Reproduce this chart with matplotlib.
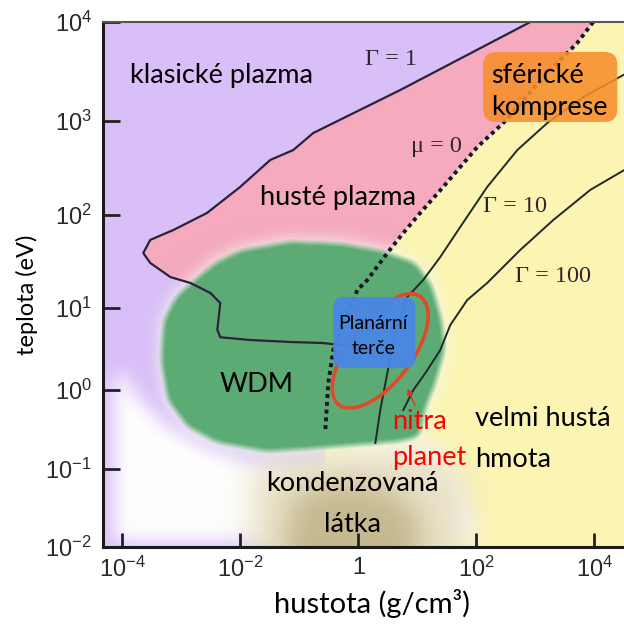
import numpy as np
import matplotlib
matplotlib.use("Agg")
import matplotlib.pyplot as plt
from matplotlib.path import Path
from matplotlib.patches import FancyBboxPatch
from matplotlib.colors import to_rgb

plt.rcParams["font.family"] = ["Lato", "DejaVu Sans"]

# ---------------- axes ----------------
X_TICKS = [1e-4, 1e-2, 1.0, 1e2, 1e4]
X_TICK_LABELS = [r"$\mathregular{10^{-4}}$", r"$\mathregular{10^{-2}}$", "1",
                 r"$\mathregular{10^{2}}$", r"$\mathregular{10^{4}}$"]
Y_TICKS = [1e-2, 1e-1, 1.0, 1e1, 1e2, 1e3, 1e4]
Y_TICK_LABELS = [r"$\mathregular{10^{-2}}$", r"$\mathregular{10^{-1}}$", r"$\mathregular{10^{0}}$",
                 r"$\mathregular{10^{1}}$", r"$\mathregular{10^{2}}$", r"$\mathregular{10^{3}}$",
                 r"$\mathregular{10^{4}}$"]
# temperature axis is drawn with uneven decade heights
Y_DECADES = [-2, -1, 0, 1, 2, 3, 4]
Y_DECADE_HEIGHT = [0, 78, 157, 239, 332, 426, 525]

# ---------------- boundary curves: density (g/cm3), temperature (eV) ----------------
gamma1_rho = [817, 5.1, 0.171, 0.0785, 0.032, 0.0099, 0.0027, 7.3e-4, 2.96e-4, 2.25e-4,
              2.96e-4, 6.5e-4, 1.41e-3, 3.1e-3, 4.55e-3, 4.05e-3, 4.55e-3, 0.0147, 0.07, 0.25, 1.07]
gamma1_T = [1e4, 2055, 745, 491, 385, 199, 105, 69, 54, 39,
            30.5, 21.5, 18.6, 14.5, 11.3, 5.4, 4.4, 4.07, 3.85, 3.74, 3.34]

mu0_rho = [9500, 5100, 1650, 284, 103, 27.3, 11.1, 5.74, 3.08, 1.41, 0.955, 0.597, 0.374, 0.308, 0.274]
mu0_T = [1e4, 6140, 3125, 952, 528, 199, 105, 64, 39, 20, 15.6, 7.1, 3.07, 1.22, 0.312]

gamma10_rho = [30800, 6460, 1585, 492, 152, 53, 24.3, 12.5, 6.7, 4.55, 3.2, 2.34, 1.93]
gamma10_T = [2915, 1747, 952, 491, 199, 74.3, 35.3, 20, 13.1, 6.2, 1.85, 0.558, 0.213]

gamma100_rho = [32000, 8490, 2005, 552, 152, 69.8, 36, 24.3, 13.6, 8.5, 5.74]
gamma100_T = [301, 185, 88.4, 42.1, 18.6, 12.2, 6.2, 3.07, 1.61, 1.0, 0.558]

# ---------------- regions ----------------
wdm_rho = [7.85e-4, 1.41e-3, 3.74e-3, 9.9e-3, 0.07, 0.49, 2.34, 9.2, 17.8, 26.3, 29.6, 20,
           13.6, 11.1, 5.1, 0.73, 0.103, 0.028, 4.0e-3, 1.25e-3, 5.7e-4, 4.4e-4, 4.9e-4]
wdm_T = [13.1, 18.6, 31.2, 42.1, 52.5, 50, 42.1, 31.2, 17.7, 7.1, 3.07, 1.15,
         0.56, 0.254, 0.22, 0.195, 0.174, 0.164, 0.213, 0.34, 0.75, 2.32, 7.1]

cold_rho = [7.26e-5, 1.07e-4, 1.65e-4, 5.31e-4, 2.51e-3, 0.0147, 0.103, 5.1, 24.3, 85, 100, 7.26e-5]
cold_T = [1.4, 1.57, 0.865, 0.36, 0.19, 0.123, 0.097, 0.201, 0.2, 0.03, 0.0116, 0.0116]

condensed_rho = [0.0147, 0.0473, 0.726, 5.1, 24.3, 64.5, 85, 64.5, 0.0147]
condensed_T = [0.097, 0.14, 0.164, 0.185, 0.164, 0.0838, 0.030, 0.01, 0.01]

condensed_core_rho = [0.0698, 0.225, 1.07, 5.1, 11.1, 11.1, 0.0575]
condensed_core_T = [0.040, 0.0624, 0.068, 0.0464, 0.0222, 0.01, 0.01]

# planetary interiors: ellipse in log10 space (centre, two semi-axis vectors in decades)
planet_centre = (2.34, 2.90)
planet_axis_a = (0.688, 0.656)
planet_axis_b = (-0.432, 0.218)

# experiment boxes (density range, temperature range)
spherical_rho = (130, 24400)
spherical_T = (976, 4980)
planar_rho = (0.374, 9.2)
planar_T = (1.85, 13.1)

# ---------------- figure ----------------
fig = plt.figure(figsize=(6.24, 6.26), dpi=100)
rect = [103 / 624, 79 / 626, 521 / 624, 525 / 626]
bg = fig.add_axes(rect, zorder=0)
ax = fig.add_axes(rect, zorder=1)
ax.patch.set_alpha(0)


def t_forward(y):
    return np.interp(np.log10(np.maximum(y, 1e-300)), Y_DECADES, Y_DECADE_HEIGHT)


def t_inverse(p):
    return 10.0 ** np.interp(p, Y_DECADE_HEIGHT, Y_DECADES)


ax.set_xscale("log")
ax.set_yscale("function", functions=(t_forward, t_inverse))
ax.set_xlim(10 ** -4.33, 10 ** 4.5)
ax.set_ylim(1e-2, 1e4)

# ---------------- soft coloured background ----------------
W, H = 521, 525
gx = (np.arange(W) + 0.5) / W
gy = 1 - (np.arange(H) + 0.5) / H
GX, GY = np.meshgrid(gx, gy)
grid = np.column_stack([GX.ravel(), GY.ravel()])


def axes_frac(rho, T):
    d = ax.transData.transform(np.column_stack([rho, T]))
    return ax.transAxes.inverted().transform(d)


def region(rho, T):
    return Path(axes_frac(rho, T)).contains_points(grid).reshape(H, W).astype(float)


def soften(m, s):
    r = int(np.ceil(3 * s))
    k = np.exp(-0.5 * (np.arange(-r, r + 1) / s) ** 2)
    k /= k.sum()
    p = np.pad(m, r, mode="edge")
    p = np.apply_along_axis(lambda v: np.convolve(v, k, mode="valid"), 0, p)
    p = np.apply_along_axis(lambda v: np.convolve(v, k, mode="valid"), 1, p)
    return p


img = np.empty((H, W, 3))
img[:] = to_rgb("#d9bff8")


def paint(color, a):
    global img
    img = img * (1 - a[..., None]) + np.asarray(to_rgb(color)) * a[..., None]


x_hi = ax.get_xlim()[1] * 3
y_lo, y_hi = ax.get_ylim()

pink_rho = gamma1_rho[:15] + mu0_rho[11::-1]
pink_T = gamma1_T[:15] + mu0_T[11::-1]
paint("#f5aabe", soften(region(pink_rho, pink_T), 1.0))

yel_rho = mu0_rho + [mu0_rho[-1], x_hi, x_hi]
yel_T = mu0_T + [y_lo, y_lo, y_hi]
paint("#fcf5b2", soften(region(yel_rho, yel_T), 1.0))

paint("#ffffff", soften(region(cold_rho, cold_T), 9))
paint("#e8e0c4", 0.95 * soften(region(condensed_rho, condensed_T), 16))
paint("#b6a878", 0.7 * soften(region(condensed_core_rho, condensed_core_T), 14))

wdm = region(wdm_rho, wdm_T)
paint("#f1f6ec", 0.7 * np.clip(1.8 * soften(wdm, 8), 0, 1))
paint("#5cab74", np.clip((soften(wdm, 5) - 0.3) / 0.5, 0, 1))

bg.imshow(img, extent=(0, 1, 0, 1), aspect="auto", interpolation="bilinear")
bg.set_xlim(0, 1)
bg.set_ylim(0, 1)
bg.axis("off")

# ---------------- curves ----------------
ax.plot(gamma1_rho, gamma1_T, color="#2a2238", lw=1.6, zorder=2)
ax.plot(gamma10_rho, gamma10_T, color="#1f2a28", lw=1.4, zorder=2)
ax.plot(gamma100_rho, gamma100_T, color="#1f2a28", lw=1.4, zorder=2)
ax.plot(mu0_rho, mu0_T, color="#161626", lw=2.8, linestyle=(0, (1, 1.0)), zorder=2)

t = np.linspace(0, 2 * np.pi, 200)
lx = np.log10(planet_centre[0]) + np.cos(t) * planet_axis_a[0] + np.sin(t) * planet_axis_b[0]
ly = np.log10(planet_centre[1]) + np.cos(t) * planet_axis_a[1] + np.sin(t) * planet_axis_b[1]
ax.plot(10 ** lx, 10 ** ly, color="#e04a28", lw=2.6, zorder=3)

ax.annotate("", xy=(6.46, 1.12), xytext=(9.55, 0.59),
            arrowprops=dict(arrowstyle="-|>", color="#e8301e", lw=1.0, mutation_scale=9),
            zorder=3)


def box(rho, T, color, alpha, r):
    (x0, y0), (x1, y1) = axes_frac(rho, T)
    ax.add_patch(FancyBboxPatch((x0, y0), x1 - x0, y1 - y0,
                                boxstyle=f"round,pad=0,rounding_size={r}",
                                transform=ax.transAxes, fc=color, ec="none",
                                alpha=alpha, zorder=4))


box(spherical_rho, spherical_T, "#f78e2c", 0.88, 0.025)
box(planar_rho, planar_T, "#4a86e6", 0.95, 0.02)

# ---------------- labels ----------------
FS = 19.5
ax.text(4.82e-3, 2420, "klasické plazma", ha="center", va="baseline", fontsize=FS, zorder=5)
ax.text(0.446, 128, "husté plazma", ha="center", va="baseline", fontsize=FS, zorder=5)
ax.text(0.0189, 0.944, "WDM", ha="center", va="baseline", fontsize=FS, zorder=5)
ax.text(0.80, 0.0522, "kondenzovaná", ha="center", va="baseline", fontsize=FS, zorder=5)
ax.text(0.80, 0.0156, "látka", ha="center", va="baseline", fontsize=FS, zorder=5)
ax.text(3.74, 0.321, "nitra", ha="left", va="baseline", fontsize=FS, color="#ff0000", zorder=5)
ax.text(3.74, 0.112, "planet", ha="left", va="baseline", fontsize=FS, color="#ff0000", zorder=5)
ax.text(95.5, 0.35, "velmi hustá", ha="left", va="baseline", fontsize=FS, zorder=5)
ax.text(95.5, 0.106, "hmota", ha="left", va="baseline", fontsize=FS, zorder=5)
ax.text(178, 2420, "sférické", ha="left", va="baseline", fontsize=FS, zorder=5)
ax.text(178, 1150, "komprese", ha="left", va="baseline", fontsize=FS, zorder=5)
ax.text(1.78, 5.55, "Planární", ha="center", va="baseline", fontsize=14, zorder=5)
ax.text(1.8, 2.75, "terče", ha="center", va="baseline", fontsize=14, zorder=5)

GK = dict(family="Liberation Serif", fontsize=17.5, color="#2e262c", ha="center", va="baseline", zorder=5)
ax.text(3.59, 3680, "Γ = 1", **GK)
ax.text(21.2, 468, "μ = 0", **GK)
ax.text(446, 108, "Γ = 10", **GK)
ax.text(1965, 19.1, "Γ = 100", **GK)

ax.set_xlabel("hustota (g/cm³)", fontsize=21)
ax.set_ylabel("teplota (eV)", fontsize=17)
ax.xaxis.set_label_coords(0.516, -0.08)
ax.yaxis.set_label_coords(-0.125, 0.48)

# ---------------- ticks and frame ----------------
ax.set_xticks(X_TICKS, X_TICK_LABELS, family="Liberation Sans", fontsize=17, color="#2a2a2a")
ax.set_yticks(Y_TICKS, Y_TICK_LABELS, family="Liberation Sans", fontsize=17, color="#2a2a2a")
ax.minorticks_off()
ax.tick_params(axis="x", direction="in", length=10, width=2, color="#222222", pad=7)
ax.tick_params(axis="y", direction="in", length=12, width=2, color="#222222", pad=8)
ax.spines["right"].set_visible(False)
ax.spines["top"].set_color("#555555")
ax.spines["top"].set_linewidth(1.5)
for s in ("left", "bottom"):
    ax.spines[s].set_color("#1a1a1a")
    ax.spines[s].set_linewidth(2.2)

fig.savefig("out.png", dpi=100)
